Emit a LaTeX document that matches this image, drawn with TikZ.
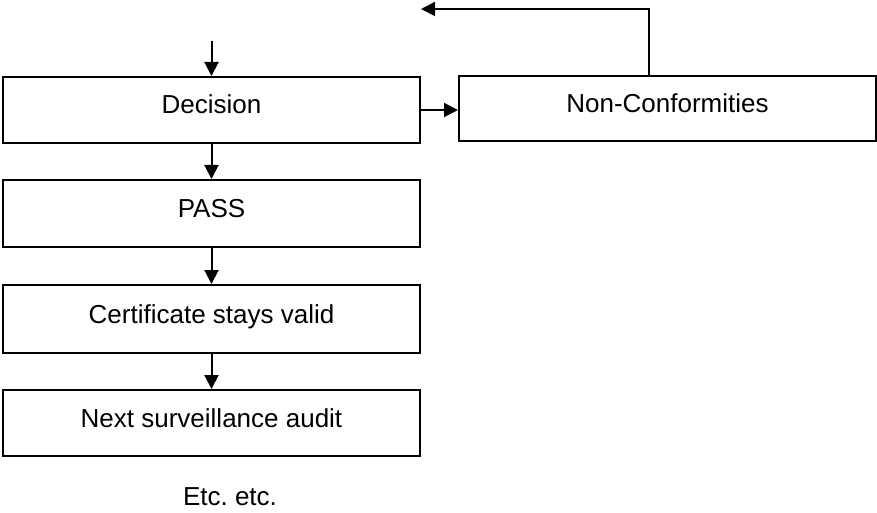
\documentclass[tikz,border=0pt]{standalone}
\usepackage{fontspec}
\setmainfont{Liberation Sans}
\usetikzlibrary{arrows.meta,calc}
\begin{document}
\begin{tikzpicture}[x=1pt,y=-1pt,
  box/.style={draw=black,line width=2pt,rectangle,minimum width=417pt,
    inner sep=0pt,text height=19pt,text depth=11pt,
    font=\fontsize{26}{30}\selectfont},
  conn/.style={draw=black,line width=2pt,-{Triangle[length=14pt,width=14pt]}},
  lbl/.style={font=\fontsize{26}{30}\selectfont,inner sep=0pt}]
\useasboundingbox (0,0) rectangle (877,513);
\node[box,minimum height=66pt] (dec) at (211.5,110) {Decision};
\node[box,minimum height=65pt] (nc) at (667.5,108.5) {Non-Conformities};
\node[box,minimum height=67pt] (pass) at (211.5,213.5) {PASS};
\node[box,minimum height=68pt] (cert) at (211.5,319) {Certificate stays valid};
\node[box,minimum height=66pt] (next) at (211.5,423) {Next surveillance audit};
\node[lbl] (etc) at (230,497) {Etc.\ etc.};
\coordinate (topin) at (211.5,41);
\coordinate (ncout) at (649,76);
\coordinate (loopend) at (421,9);
\draw[conn] (topin) -- (dec.north);
\draw[conn] (dec.south) -- (pass.north);
\draw[conn] (pass.south) -- (cert.north);
\draw[conn] (cert.south) -- (next.north);
\draw[conn] (dec.east) -- (dec.east -| nc.west);
\draw[conn] (ncout |- nc.north) -- (ncout |- loopend) -- (loopend);
\end{tikzpicture}
\end{document}
